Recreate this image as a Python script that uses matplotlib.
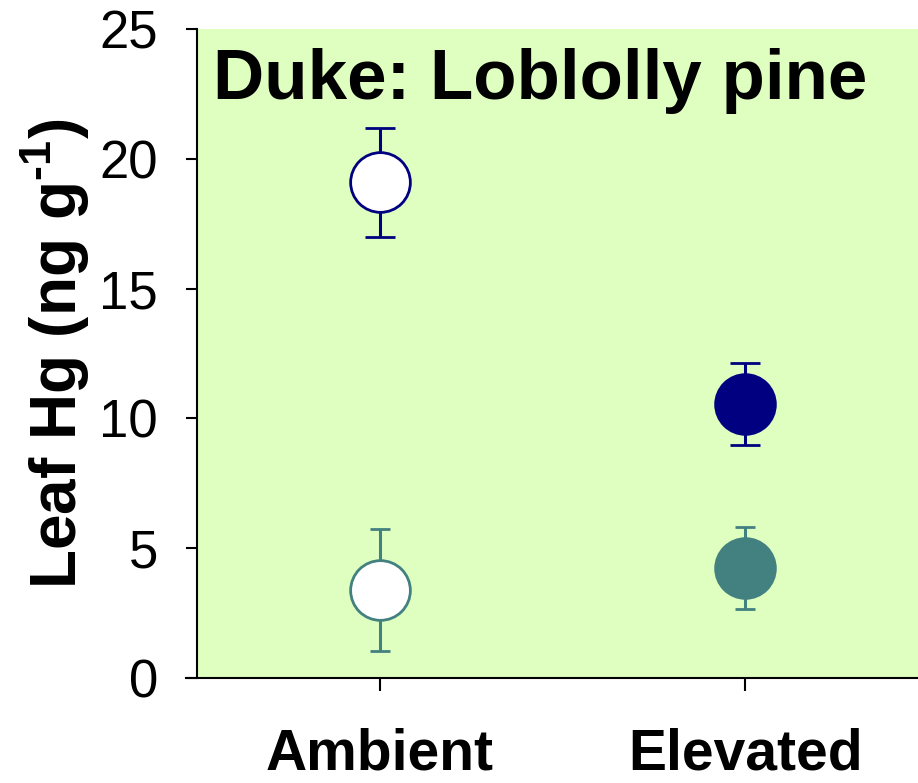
import numpy as np
import matplotlib.pyplot as plt

plt.rcParams['font.family'] = ['Liberation Sans', 'DejaVu Sans']
plt.rcParams['mathtext.fontset'] = 'custom'
plt.rcParams['mathtext.rm'] = 'Liberation Sans:bold'
plt.rcParams['mathtext.bf'] = 'Liberation Sans:bold'

# treatments on the x axis
treatments = ['Ambient', 'Elevated']

# leaf Hg (ng g-1), mean and error, two sample sets
navy_mean = [19.1, 10.55]
navy_err = [2.1, 1.57]
teal_mean = [3.4, 4.23]
teal_err = [2.35, 1.57]

navy = '#000080'
teal = '#438080'
bg = '#DFFFC0'

fig = plt.figure(figsize=(9.18, 7.83), dpi=100)
ax = fig.add_axes([197/918, 1 - 678/783, (928 - 197)/918, (678 - 29)/783])
ax.set_facecolor(bg)

x = np.arange(len(treatments))

def draw_series(means, errs, color, cap):
    for i in range(len(x)):
        # ambient open, elevated filled
        face = 'white' if i == 0 else color
        ax.errorbar(x[i], means[i], yerr=errs[i], fmt='o', color=color,
                    mfc=face, mec=color, mew=2, ms=43, elinewidth=2.2,
                    capsize=cap, capthick=2.2, zorder=3)

draw_series(navy_mean, navy_err, navy, 11)
draw_series(teal_mean, teal_err, teal, 7.5)

ax.set_xlim(-0.5, 1.5)
ax.set_ylim(0, 25)
ax.set_yticks([0, 5, 10, 15, 20, 25])
ax.set_xticks(x)
ax.set_xticklabels(treatments, fontsize=41, fontweight='bold')
ax.tick_params(axis='y', labelsize=38, length=8, width=1.5, pad=20, direction='out')
ax.tick_params(axis='x', length=9, width=1.5, pad=27, direction='out')

ax.spines['top'].set_visible(False)
ax.spines['right'].set_visible(False)
ax.spines['left'].set_linewidth(1.5)
ax.spines['bottom'].set_linewidth(1.5)
ax.spines['bottom'].set_bounds(-0.53, 1.5)

ax.set_ylabel('Leaf Hg (ng g$^{\\text{-1}}$)', fontsize=46, fontweight='bold', labelpad=6)
ax.text(0.022, 0.92, 'Duke: Loblolly pine', transform=ax.transAxes,
        fontsize=51, fontweight='bold', va='center', ha='left')

fig.savefig('out.png', dpi=100)
